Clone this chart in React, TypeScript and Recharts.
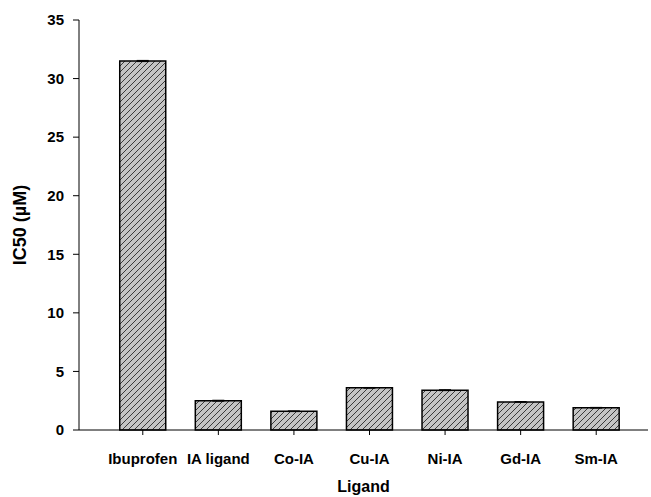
import React from 'react';
import { BarChart, Bar, XAxis, YAxis, ErrorBar } from 'recharts';

const ligands = ['Ibuprofen', 'IA ligand', 'Co-IA', 'Cu-IA', 'Ni-IA', 'Gd-IA', 'Sm-IA'];
const ic50 = [31.5, 2.5, 1.6, 3.6, 3.4, 2.4, 1.9];
const ic50Err = [0.05, 0.04, 0.03, 0.03, 0.04, 0.03, 0.03];
const yTicks = [0, 5, 10, 15, 20, 25, 30, 35];

const data = ligands.map((name, i) => ({ name, value: ic50[i], err: ic50Err[i] }));

const FONT = 'Arial, "Liberation Sans", sans-serif';

const YLabel = (props: any) => {
  const { viewBox } = props;
  const cy = viewBox.y + viewBox.height / 2;
  return (
    <text
      x={26}
      y={cy}
      transform={`rotate(-90, 26, ${cy})`}
      textAnchor="middle"
      fontFamily={FONT}
      fontWeight="bold"
      fontSize={18}
      fill="#000"
    >
      IC50 (µM)
    </text>
  );
};

const XLabel = (props: any) => {
  const { viewBox } = props;
  const cx = viewBox.x + viewBox.width / 2;
  return (
    <text x={cx} y={492} textAnchor="middle" fontFamily={FONT} fontWeight="bold" fontSize={16} fill="#000">
      Ligand
    </text>
  );
};

const App: React.FC = () => {
  return (
    <div style={{ position: 'absolute', left: 0, top: 0, background: '#fff' }}>
      <BarChart width={651} height={497} data={data} margin={{ top: 20, right: 3, left: 0, bottom: 37 }} barCategoryGap="19.5%">
        <defs>
          <pattern id="hatch" width="6" height="6" patternUnits="userSpaceOnUse">
            <rect width="6" height="6" fill="#c4c4c4" />
            <path d="M0,6 L6,0 M-1,1 L1,-1 M5,7 L7,5" stroke="#3a3a3a" strokeWidth={1} />
          </pattern>
        </defs>
        <XAxis
          dataKey="name"
          height={30}
          stroke="#000"
          tickSize={5}
          tickMargin={18}
          padding={{ left: 26, right: 14 }}
          tick={{ fill: '#000', fontFamily: FONT, fontWeight: 'bold', fontSize: 15 }}
          interval={0}
          label={<XLabel />}
        />
        <YAxis
          domain={[0, 35]}
          ticks={yTicks}
          width={79}
          stroke="#000"
          tickSize={6}
          tickMargin={9}
          tick={{ fill: '#000', fontFamily: FONT, fontWeight: 'bold', fontSize: 15 }}
          label={<YLabel />}
        />
        <Bar dataKey="value" fill="url(#hatch)" stroke="#000" strokeWidth={1.5} isAnimationActive={false}>
          <ErrorBar dataKey="err" width={6} stroke="#000" strokeWidth={1} />
        </Bar>
      </BarChart>
    </div>
  );
};

export default App;
